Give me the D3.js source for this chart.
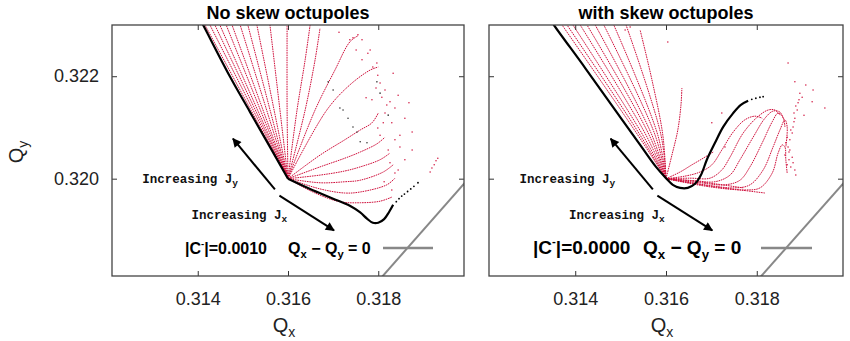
<!DOCTYPE html>
<html><head><meta charset="utf-8">
<script src="https://cdn.jsdelivr.net/npm/d3@7"></script>
<style>body{margin:0;background:#fff}</style>
</head><body><svg id="c" width="850" height="341"></svg>
<script>
// ---------------- DATA ----------------
const xTicks = [0.314, 0.316, 0.318];
const xTickLabels = ["0.314", "0.316", "0.318"];
const yTicks = [0.320, 0.322];
const yTickLabels = ["0.320", "0.322"];
const xDomain = [0.3121, 0.3199];
const yDomain = [0.3181, 0.3230];
const panelTitles = ["No skew octupoles", "with skew octupoles"];
const couplingValues = ["0.0010", "0.0000"];
const diagonal = [[0.3170, 0.3170], [0.3210, 0.3210]]; // Qx - Qy = 0
const arrowJy = [[0.31571, 0.31979], [0.31478, 0.32078]];
const arrowJx = [[0.31581, 0.31967], [0.31702, 0.31899]];
const labelJy = [0.31277, 0.31992];
const labelJx = [0.31386, 0.31921];

// Left panel (no skew octupoles)
const leftBlackUpper = [[0.31394,0.32330],[0.31412,0.32300],[0.31471,0.32200],[0.31516,0.32130],[0.31560,0.32062],[0.31600,0.32000]];
const leftBlackLower = [[0.31600,0.32000],[0.31649,0.31980],[0.31700,0.31961],[0.31737,0.31947],[0.31760,0.31934],[0.31775,0.31922],[0.31788,0.31914],[0.31800,0.31914],[0.31813,0.31921],[0.31824,0.31935],[0.31833,0.31949]];
const leftBlackDots = [[0.31840,0.31955],[0.31846,0.31961],[0.31852,0.31966],[0.31858,0.31970],[0.31865,0.31975],[0.31872,0.31980],[0.31879,0.31985],[0.31888,0.31992]];
const leftRed = [
  [[0.3160,0.3200],[0.31416,0.3230]],
  [[0.3160,0.3200],[0.31427,0.3230]],
  [[0.3160,0.3200],[0.31438,0.3230]],
  [[0.3160,0.3200],[0.31449,0.3230]],
  [[0.3160,0.3200],[0.31463,0.3230]],
  [[0.3160,0.3200],[0.31476,0.3230]],
  [[0.3160,0.3200],[0.31494,0.3230]],
  [[0.3160,0.3200],[0.31511,0.3230]],
  [[0.3160,0.3200],[0.31531,0.3230]],
  [[0.3160,0.3200],[0.31560,0.3230]],
  [[0.3160,0.3200],[0.31598,0.32134],[0.31598,0.3230]],
  [[0.3160,0.3200],[0.31620,0.32134],[0.31638,0.32232],[0.31649,0.3230]],
  [[0.3160,0.3200],[0.31638,0.32134],[0.31660,0.32232],[0.31671,0.32294]],
  [[0.3160,0.3200],[0.31660,0.32134],[0.31704,0.32212],[0.31737,0.32267],[0.31755,0.32279]],
  [[0.3160,0.3200],[0.31686,0.32134],[0.31737,0.32183],[0.31782,0.32212],[0.31800,0.32218]],
  [[0.3160,0.3200],[0.31671,0.32046],[0.31726,0.32076],[0.31760,0.32095],[0.31786,0.32109],[0.31800,0.32128]],
  [[0.3160,0.3200],[0.31671,0.32023],[0.31726,0.32040],[0.31760,0.32052],[0.31797,0.32068],[0.31815,0.32081]],
  [[0.3160,0.3200],[0.31671,0.32007],[0.31726,0.32015],[0.31760,0.32023],[0.31804,0.32037],[0.31826,0.32050]],
  [[0.3160,0.3200],[0.31671,0.31992],[0.31726,0.31994],[0.31760,0.31997],[0.31811,0.32013],[0.31833,0.32027]],
  [[0.3160,0.3200],[0.31671,0.31980],[0.31726,0.31972],[0.31760,0.31974],[0.31819,0.31988],[0.31837,0.32001]],
  [[0.3160,0.3200],[0.31660,0.31972],[0.31715,0.31955],[0.31760,0.31953],[0.31804,0.31956],[0.31830,0.31964]]
];
const leftRedScatter = [[0.31713,0.32286],[0.31737,0.32271],[0.31744,0.32275],[0.31755,0.32281],[0.31777,0.32245],[0.31782,0.32251],[0.31788,0.32218],[0.31797,0.32226],[0.31799,0.32202],[0.31804,0.32187],[0.31833,0.32206],[0.31844,0.32163],[0.31808,0.32159],[0.31819,0.32144],[0.31826,0.32150],[0.31859,0.32118],[0.31875,0.32091],[0.31830,0.32109],[0.31811,0.32109],[0.31795,0.32177],[0.31786,0.32154],[0.31815,0.32128],[0.31837,0.32076],[0.31848,0.32062],[0.31822,0.32056],[0.31804,0.32085],[0.31764,0.32271],[0.31859,0.32037],[0.31844,0.32017],[0.31813,0.31994],[0.31830,0.31978],[0.31848,0.32085],[0.31799,0.32099],[0.31773,0.32158],[0.31815,0.32173],[0.31837,0.32138],[0.31764,0.32232],[0.31751,0.32251],[0.31868,0.32148],[0.31875,0.32056],[0.31826,0.32031],[0.31837,0.32011],
  [0.31915,0.32013],[0.31919,0.32021],[0.31924,0.32027],[0.31928,0.32035],[0.31932,0.32040]];
const leftDarkScatter = [[0.31689,0.32189],[0.31700,0.32173],[0.31715,0.32138],[0.31722,0.32134],[0.31733,0.32118],[0.31744,0.32101],[0.31753,0.32091],[0.31760,0.32072],[0.31775,0.32070],[0.31797,0.32189],[0.31804,0.32167],[0.31822,0.32124]];

// Right panel (with skew octupoles)
const rightBlack = [[0.31338,0.32320],[0.31353,0.32300],[0.31422,0.32216],[0.31483,0.32140],[0.31543,0.32066],[0.31578,0.32023],[0.31600,0.32001],[0.31615,0.31988],[0.31631,0.31982],[0.31648,0.31982],[0.31664,0.31990],[0.31677,0.32007],[0.31690,0.32037],[0.31708,0.32070],[0.31726,0.32101],[0.31748,0.32128],[0.31765,0.32144],[0.31781,0.32152]];
const rightBlackDots = [[0.31789,0.32155],[0.31798,0.32157],[0.31807,0.32159],[0.31814,0.32160]];
const rightRed = [
  [[0.3160,0.3200],[0.31538,0.32085],[0.31371,0.3230]],
  [[0.3160,0.3200],[0.31543,0.32085],[0.31382,0.3230]],
  [[0.3160,0.3200],[0.31549,0.32085],[0.31395,0.3230]],
  [[0.3160,0.3200],[0.31556,0.32085],[0.31411,0.3230]],
  [[0.3160,0.3200],[0.31563,0.32085],[0.31426,0.3230]],
  [[0.3160,0.3200],[0.31569,0.32085],[0.31444,0.3230]],
  [[0.3160,0.3200],[0.31576,0.32085],[0.31463,0.3230]],
  [[0.3160,0.3200],[0.31582,0.32085],[0.31485,0.3230]],
  [[0.3160,0.3200],[0.31589,0.32085],[0.31512,0.3230]],
  [[0.3160,0.3200],[0.31593,0.32085],[0.31569,0.32193],[0.31543,0.32290]],
  [[0.3160,0.3200],[0.31613,0.32046],[0.31626,0.32095],[0.31633,0.32144],[0.31635,0.32177]],
  [[0.3160,0.3200],[0.31631,0.32013],[0.31657,0.32027],[0.31682,0.32040],[0.31704,0.32052]],
  [[0.3160,0.3200],[0.31653,0.31992],[0.31708,0.31984],[0.31763,0.31978],[0.31818,0.31972]],
  [[0.3160,0.3200],[0.31653,0.31996],[0.31708,0.31990],[0.31770,0.31982]],
  [[0.3160,0.3200],[0.31642,0.32005],[0.31675,0.32013],[0.31701,0.32027],[0.31723,0.32056],[0.31748,0.32091],[0.31774,0.32115],[0.31796,0.32122],[0.31812,0.32118]],
  [[0.3160,0.3200],[0.31653,0.32001],[0.31697,0.32001],[0.31723,0.32017],[0.31741,0.32042],[0.31770,0.32089],[0.31801,0.32120],[0.31825,0.32134],[0.31840,0.32134],[0.31851,0.32124]],
  [[0.3160,0.3200],[0.31664,0.31996],[0.31708,0.31994],[0.31741,0.32007],[0.31763,0.32037],[0.31792,0.32081],[0.31818,0.32118],[0.31836,0.32132],[0.31851,0.32130],[0.31858,0.32118]],
  [[0.3160,0.3200],[0.31675,0.31992],[0.31730,0.31988],[0.31763,0.31997],[0.31785,0.32023],[0.31812,0.32070],[0.31834,0.32111],[0.31847,0.32128],[0.31858,0.32120],[0.31862,0.32101]],
  [[0.3160,0.3200],[0.31686,0.31988],[0.31752,0.31982],[0.31785,0.31988],[0.31814,0.32017],[0.31836,0.32062],[0.31851,0.32095],[0.31862,0.32115],[0.31867,0.32101],[0.31864,0.32062]],
  [[0.3160,0.3200],[0.31697,0.31984],[0.31774,0.31978],[0.31807,0.31982],[0.31834,0.32011],[0.31847,0.32050],[0.31856,0.32066],[0.31862,0.32062],[0.31864,0.32037],[0.31867,0.32011]]
];
const rightRedScatter = [[0.31891,0.32148],[0.31889,0.32134],[0.31884,0.32118],[0.31880,0.32101],[0.31878,0.32089],[0.31873,0.32076],[0.31869,0.32062],[0.31871,0.32052],[0.31878,0.32042],[0.31880,0.32031],[0.31884,0.32017],[0.31895,0.32167],[0.31900,0.32159],[0.31886,0.32142],[0.31882,0.32111],[0.31875,0.32095],[0.31867,0.32081],[0.31864,0.32070],[0.31873,0.32056],[0.31882,0.32128],[0.31893,0.32154],[0.31871,0.32037],[0.31875,0.32023],[0.31862,0.32046],[0.31867,0.32027],[0.31886,0.32007],
  [0.31869,0.32226],[0.31884,0.32189],[0.31924,0.32173],[0.31922,0.32150],[0.31950,0.32138],[0.31723,0.32128],[0.31701,0.32109],[0.31730,0.32062],[0.31604,0.32267],[0.31908,0.32183],[0.31904,0.32124],[0.31521,0.32296],[0.31510,0.32290]];
const rightDarkScatter = [];

// ---------------- LAYOUT ----------------
const W = 850, H = 341, TOP = 25, BOTTOM = 276;
const RED = "#d0103c";
const svg = d3.select("#c");
svg.append("rect").attr("width", W).attr("height", H).attr("fill", "#fff");
const defs = svg.append("defs");
defs.append("marker").attr("id", "ah").attr("viewBox", "0 0 10 10")
  .attr("refX", 9).attr("refY", 5).attr("markerWidth", 5).attr("markerHeight", 4.5)
  .attr("orient", "auto").append("path").attr("d", "M0,0L10,5L0,10z").attr("fill", "#000");

const panels = [
  {l: 112, r: 464, title: panelTitles[0], coupling: couplingValues[0], blackLines: [leftBlackUpper, leftBlackLower], blackDots: leftBlackDots, red: leftRed, redScatter: leftRedScatter, darkScatter: leftDarkScatter, yLabels: true, lf: 16, cx: 185, qx: 288, lx: [383, 433]},
  {l: 489, r: 843, title: panelTitles[1], coupling: couplingValues[1], blackLines: [rightBlack], blackDots: rightBlackDots, red: rightRed, redScatter: rightRedScatter, darkScatter: rightDarkScatter, yLabels: false, lf: 19, cx: 533, qx: 643, lx: [761, 812]}
];

const SANS = "'Liberation Sans', Arial, sans-serif";
const MONO = "'Liberation Mono', 'Courier New', monospace";

function subText(sel, main, sub, subSize, dy) {
  sel.append("tspan").text(main);
  sel.append("tspan").attr("font-size", subSize).attr("dy", dy).text(sub);
}

panels.forEach((p, pi) => {
  const x = d3.scaleLinear().domain(xDomain).range([p.l, p.r]);
  const y = d3.scaleLinear().domain(yDomain).range([BOTTOM, TOP]);
  const g = svg.append("g");
  const cid = "clip" + pi;
  defs.append("clipPath").attr("id", cid).append("rect")
    .attr("x", p.l).attr("y", TOP).attr("width", p.r - p.l).attr("height", BOTTOM - TOP);
  const plot = g.append("g").attr("clip-path", `url(#${cid})`);
  const line = d3.line().x(d => x(d[0])).y(d => y(d[1])).curve(d3.curveCatmullRom.alpha(0.5));

  // red tune-footprint curves
  plot.selectAll("path.red").data(p.red).join("path").attr("class", "red")
    .attr("d", line).attr("fill", "none").attr("stroke", RED)
    .attr("stroke-width", 1).attr("stroke-dasharray", "1.6,0.8");
  plot.selectAll("circle.rs").data(p.redScatter).join("circle").attr("class", "rs")
    .attr("cx", d => x(d[0])).attr("cy", d => y(d[1])).attr("r", 0.75).attr("fill", RED);
  plot.selectAll("circle.ds").data(p.darkScatter).join("circle").attr("class", "ds")
    .attr("cx", d => x(d[0])).attr("cy", d => y(d[1])).attr("r", 0.8).attr("fill", "#333");
  // black curves
  plot.selectAll("path.blk").data(p.blackLines).join("path").attr("class", "blk")
    .attr("d", line).attr("fill", "none").attr("stroke", "#000").attr("stroke-width", 2.2);
  plot.selectAll("circle.bd").data(p.blackDots).join("circle").attr("class", "bd")
    .attr("cx", d => x(d[0])).attr("cy", d => y(d[1])).attr("r", 0.9).attr("fill", "#000");
  // Qx - Qy = 0
  plot.append("path").datum(diagonal).attr("d", d3.line().x(d => x(d[0])).y(d => y(d[1])))
    .attr("stroke", "#888").attr("stroke-width", 2).attr("fill", "none");

  // arrows
  [arrowJy, arrowJx].forEach(a => {
    g.append("line").attr("x1", x(a[0][0])).attr("y1", y(a[0][1]))
      .attr("x2", x(a[1][0])).attr("y2", y(a[1][1]))
      .attr("stroke", "#000").attr("stroke-width", 2).attr("marker-end", "url(#ah)");
  });
  const t1 = g.append("text").attr("x", x(labelJy[0])).attr("y", y(labelJy[1]))
    .attr("font-family", MONO).attr("font-weight", "bold").attr("font-size", 12.5).attr("fill", "#111");
  subText(t1, "Increasing J", "y", 9.5, 3);
  const t2 = g.append("text").attr("x", x(labelJx[0])).attr("y", y(labelJx[1]))
    .attr("font-family", MONO).attr("font-weight", "bold").attr("font-size", 12.5).attr("fill", "#111");
  subText(t2, "Increasing J", "x", 9.5, 3);

  // legend
  const c = g.append("text").attr("x", p.cx).attr("y", 254).attr("font-family", SANS)
    .attr("font-weight", "bold").attr("font-size", p.lf).attr("fill", "#000");
  c.append("tspan").text("|C");
  c.append("tspan").attr("font-size", p.lf * 0.6).attr("dy", -p.lf * 0.45).text("-");
  c.append("tspan").attr("dy", p.lf * 0.45).text("|=" + p.coupling);
  const q = g.append("text").attr("x", p.qx).attr("y", 254).attr("font-family", SANS)
    .attr("font-weight", "bold").attr("font-size", p.lf).attr("fill", "#000");
  q.append("tspan").text("Q");
  q.append("tspan").attr("font-size", p.lf * 0.7).attr("dy", p.lf * 0.25).text("x");
  q.append("tspan").attr("dy", -p.lf * 0.25).text(" \u2212 Q");
  q.append("tspan").attr("font-size", p.lf * 0.7).attr("dy", p.lf * 0.25).text("y");
  q.append("tspan").attr("dy", -p.lf * 0.25).text(" = 0");
  g.append("line").attr("x1", p.lx[0]).attr("x2", p.lx[1]).attr("y1", 248).attr("y2", 248)
    .attr("stroke", "#888").attr("stroke-width", 2.5);

  // axes
  const ax = (gen, tr) => {
    const a = g.append("g").attr("transform", tr).call(gen);
    a.select(".domain").remove();
    a.attr("font-size", 18).attr("font-family", SANS).attr("color", "#333");
    a.selectAll("text").attr("fill", "#222");
    return a;
  };
  ax(d3.axisBottom(x).tickValues(xTicks).tickFormat((d, i) => xTickLabels[i]).tickSize(-5).tickPadding(16), `translate(0,${BOTTOM})`);
  ax(d3.axisTop(x).tickValues(xTicks).tickFormat("").tickSize(-5), `translate(0,${TOP})`);
  ax(d3.axisLeft(y).tickValues(yTicks).tickFormat((d, i) => p.yLabels ? yTickLabels[i] : "").tickSize(-5).tickPadding(13), `translate(${p.l},0)`);
  ax(d3.axisRight(y).tickValues(yTicks).tickFormat("").tickSize(-5), `translate(${p.r},0)`);

  g.append("rect").attr("x", p.l).attr("y", TOP).attr("width", p.r - p.l).attr("height", BOTTOM - TOP)
    .attr("fill", "none").attr("stroke", "#444").attr("stroke-width", 1.3);

  // title and x label
  g.append("text").attr("x", (p.l + p.r) / 2).attr("y", 19).attr("text-anchor", "middle")
    .attr("font-family", SANS).attr("font-weight", "bold").attr("font-size", 18).text(p.title);
  const xl = g.append("text").attr("x", (p.l + p.r) / 2 - 4).attr("y", 332).attr("text-anchor", "middle")
    .attr("font-family", SANS).attr("font-size", 20).attr("fill", "#222");
  subText(xl, "Q", "x", 14, 5);
});

const yl = svg.append("text").attr("transform", "translate(23,152) rotate(-90)").attr("text-anchor", "middle")
  .attr("font-family", SANS).attr("font-size", 20).attr("fill", "#222");
subText(yl, "Q", "y", 14, 5);
</script>
</body></html>
